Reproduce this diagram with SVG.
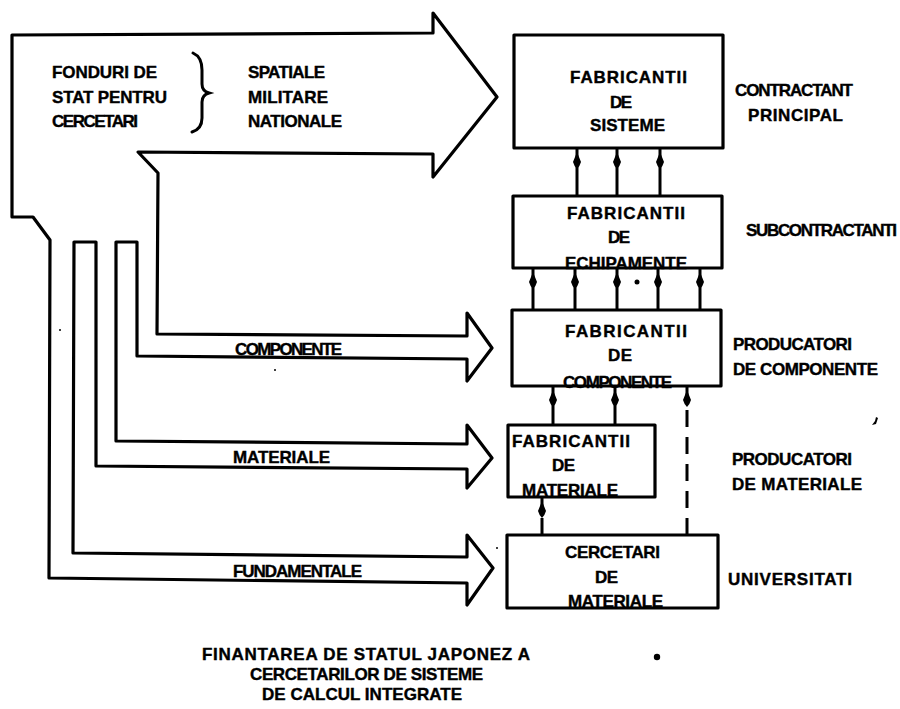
<svg xmlns="http://www.w3.org/2000/svg" width="900" height="709" viewBox="0 0 900 709">
  <style>
    text { font-family: "Liberation Sans", Arial, sans-serif; font-weight: bold; font-size: 17px; fill: #000; stroke: #000; stroke-width: 0.4; }
    .box { fill: none; stroke: #000; stroke-width: 3.2; stroke-linejoin: round; }
    .flow { fill: #fff; stroke: #000; stroke-width: 3.2; stroke-linejoin: round; }
    .link { stroke: #000; stroke-width: 3; fill: none; marker-end: url(#head); }
    .dash { stroke-dasharray: 17 10; }
    .brace { fill: none; stroke: #000; stroke-width: 3; stroke-linecap: round; }
  </style>
  <defs>
    <!-- upward-pointing drop-shaped arrowhead, tip sits 3px past the line end -->
    <marker id="head" viewBox="0 -3 10 22" markerWidth="10" markerHeight="22" refX="5" refY="-3" markerUnits="userSpaceOnUse" orient="0">
      <path d="M5,0 L9,10 Q7.5,15 5,17 Q2.5,15 1,10 Z" fill="#000"/>
    </marker>
  </defs>

  <rect width="900" height="709" fill="#fff"/>

  <!-- funding flows: one outline splitting into four wide arrows -->
  <g id="connectors">
    <path id="funding-flows" class="flow" d="M12,35 L433,33 L433,13 L497,97 L433,177 L433,154 L138,152 L158,173 L157,334 L467,336 L467,313 L492,348 L467,381 L467,359 L137,356 L137,242 L116,242 L116,441 L467,444 L467,425 L492,458 L467,488 L467,469 L96,466 L96,242 L74,242 L73,553 L467,557 L467,535 L493,568 L467,605 L467,583 L49,578 L50,240 L33,217 L12,217 Z"/>

    <!-- subcontractors to prime contractor -->
    <line class="link" x1="577" y1="196" x2="577" y2="149"/>
    <line class="link" x1="617" y1="196" x2="617" y2="149"/>
    <line class="link" x1="660" y1="196" x2="660" y2="149"/>
    <!-- component makers to subcontractors -->
    <line class="link" x1="533" y1="310" x2="533" y2="269"/>
    <line class="link" x1="575" y1="310" x2="575" y2="269"/>
    <line class="link" x1="617" y1="310" x2="617" y2="269"/>
    <line class="link" x1="658" y1="310" x2="658" y2="269"/>
    <line class="link" x1="700" y1="310" x2="700" y2="269"/>
    <!-- material makers to component makers -->
    <line class="link" x1="553" y1="425" x2="553" y2="387"/>
    <line class="link" x1="615" y1="425" x2="615" y2="387"/>
    <!-- university research (dashed) -->
    <line class="link dash" x1="542" y1="535" x2="542" y2="498"/>
    <line class="link dash" x1="687" y1="535" x2="687" y2="387"/>
  </g>

  <g id="funding-labels">
    <text x="52" y="78" textLength="105">FONDURI DE</text>
    <text x="52" y="103" textLength="115">STAT PENTRU</text>
    <text x="52" y="127" textLength="86">CERCETARI</text>
    <path class="brace" d="M193,53 Q202,57 202,70 L202,84 Q202,91 209,93 Q202,95 202,102 L202,118 Q202,129 192,132"/>
    <text x="248" y="78" textLength="77">SPATIALE</text>
    <text x="248" y="103" textLength="80">MILITARE</text>
    <text x="248" y="127" textLength="94">NATIONALE</text>
    <text x="235" y="355" textLength="107">COMPONENTE</text>
    <text x="233" y="463" textLength="97">MATERIALE</text>
    <text x="233" y="577" textLength="129">FUNDAMENTALE</text>
  </g>

  <g id="system-makers">
    <text x="570" y="83" textLength="117">FABRICANTII</text>
    <text x="610" y="108" textLength="22">DE</text>
    <text x="590" y="131" textLength="75">SISTEME</text>
    <rect class="box" x="514" y="35" width="209" height="113"/>
    <text x="735" y="96" textLength="118">CONTRACTANT</text>
    <text x="748" y="121" textLength="95">PRINCIPAL</text>
  </g>

  <g id="equipment-makers">
    <text x="567" y="219" textLength="118">FABRICANTII</text>
    <text x="608" y="243" textLength="22">DE</text>
    <text x="565" y="269" textLength="122">ECHIPAMENTE</text>
    <rect class="box" x="513" y="196" width="209" height="72"/>
    <text x="746" y="236" textLength="151">SUBCONTRACTANTI</text>
  </g>

  <g id="component-makers">
    <text x="565" y="337" textLength="122">FABRICANTII</text>
    <text x="608" y="361" textLength="24">DE</text>
    <text x="563" y="388" textLength="109">COMPONENTE</text>
    <rect class="box" x="512" y="310" width="209" height="76"/>
    <text x="733" y="350" textLength="119">PRODUCATORI</text>
    <text x="733" y="375" textLength="145">DE COMPONENTE</text>
  </g>

  <g id="material-makers">
    <text x="512" y="447" textLength="118">FABRICANTII</text>
    <text x="552" y="471" textLength="23">DE</text>
    <text x="522" y="496" textLength="96">MATERIALE</text>
    <rect class="box" x="508" y="425" width="147" height="72"/>
    <text x="732" y="465" textLength="120">PRODUCATORI</text>
    <text x="732" y="490" textLength="130">DE MATERIALE</text>
  </g>

  <g id="universities">
    <text x="565" y="558" textLength="95">CERCETARI</text>
    <text x="595" y="583" textLength="23">DE</text>
    <text x="568" y="607" textLength="95">MATERIALE</text>
    <rect class="box" x="507" y="535" width="211" height="73"/>
    <text x="728" y="585" textLength="124">UNIVERSITATI</text>
  </g>

  <g id="caption">
    <text x="202" y="660" textLength="328">FINANTAREA DE STATUL JAPONEZ A</text>
    <text x="250" y="680" textLength="233">CERCETARILOR DE SISTEME</text>
    <text x="262" y="700" textLength="200">DE CALCUL INTEGRATE</text>
  </g>

  <!-- stray print marks -->
  <g id="specks" fill="#000">
    <circle cx="637" cy="282" r="2.5"/>
    <circle cx="657" cy="657" r="3.2"/>
    <path d="M876,417 L878,418 L876,424 L872,425 L875,421 Z"/>
    <circle cx="60" cy="330" r="1"/>
    <circle cx="275" cy="370" r="1"/>
    <circle cx="497" cy="548" r="1"/>
  </g>
</svg>
